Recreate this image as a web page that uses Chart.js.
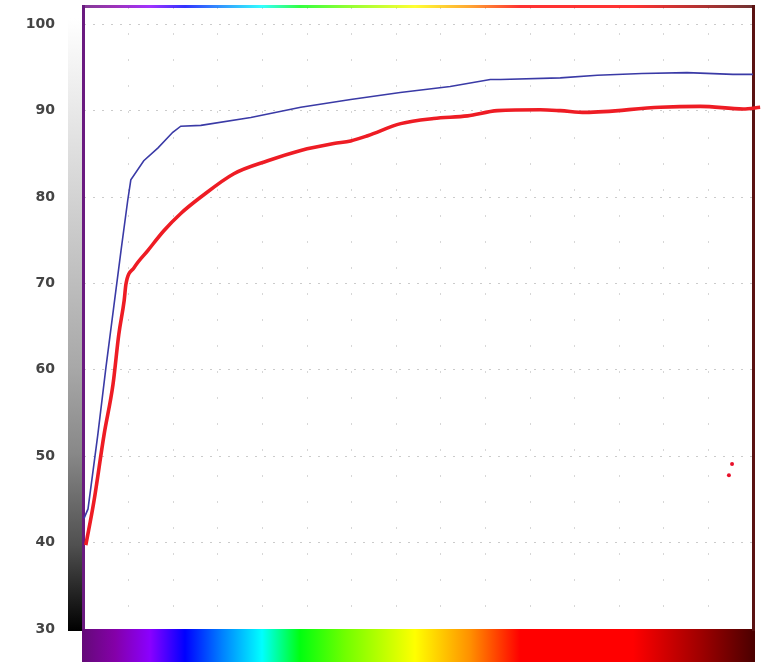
<!DOCTYPE html>
<html>
<head>
<meta charset="utf-8">
<script src="https://cdn.jsdelivr.net/npm/chart.js@4/dist/chart.umd.min.js"></script>
<style>
  html, body { margin: 0; padding: 0; background: #ffffff; }
  #wrap { width: 767px; height: 669px; position: relative; }
</style>
</head>
<body>
<div id="wrap"><canvas id="c"></canvas></div>
<script>
// ---- data ----
const blueX = [0, 0.09, 0.31, 0.49, 0.67, 0.83, 0.98, 1.05, 1.34, 1.66, 1.99, 2.17, 2.62, 3.74, 4.86, 5.98, 7.09, 8.21, 9.11, 9.34, 10.68, 11.51, 12.51, 13.52, 14.55, 15];
const blueY = [42.8, 43.9, 52.5, 60.2, 67.4, 73.8, 79.6, 82.0, 84.2, 85.7, 87.5, 88.2, 88.3, 89.2, 90.4, 91.3, 92.1, 92.8, 93.6, 93.6, 93.8, 94.1, 94.3, 94.4, 94.2, 94.2];

const redX = [0.04, 0.22, 0.45, 0.65, 0.78, 0.90, 0.94, 1.12, 1.43, 1.79, 2.17, 2.62, 3.36, 4.12, 4.86, 5.60, 5.98, 6.36, 7.10, 7.84, 8.60, 9.27, 10.23, 10.68, 11.24, 12.92, 13.82, 14.78, 15.16];
const redY = [39.7, 44.7, 52.5, 58.3, 64.1, 68.0, 69.9, 71.8, 73.8, 76.1, 78.1, 80.0, 82.7, 84.2, 85.4, 86.2, 86.5, 87.1, 88.5, 89.1, 89.4, 90.0, 90.1, 90.0, 89.8, 90.4, 90.5, 90.2, 90.4];

const strayX = [14.53, 14.46];
const strayY = [49.1, 47.8];

const yTickValues = [30, 40, 50, 60, 70, 80, 90, 100];

const toPts = (xs, ys) => xs.map((x, i) => ({ x: x, y: ys[i] }));

// ---- decorations: gray bar, spectrum bar, frame ----
function spectrum(ctx, x0, x1) {
  const g = ctx.createLinearGradient(x0, 0, x1, 0);
  const stops = [
    [82, '#640a78'], [115, '#8400a8'], [150, '#8a00ff'], [185, '#0000ff'],
    [222, '#0080ff'], [262, '#00ffff'], [300, '#00ff10'], [345, '#70ff00'],
    [415, '#ffff00'], [470, '#ff9000'], [520, '#ff0000'], [633, '#ff0000'],
    [700, '#a00000'], [755, '#4a0000']
  ];
  stops.forEach(s => g.addColorStop(Math.min(1, Math.max(0, (s[0] - 82) / (755 - 82))), s[1]));
  return g;
}

const decor = {
  id: 'decor',
  beforeDatasetsDraw(chart) {
    const ctx = chart.ctx;
    const a = chart.chartArea;
    ctx.save();
    // gray gradient bar on left
    const gg = ctx.createLinearGradient(0, 18, 0, a.bottom + 2);
    gg.addColorStop(0, '#ffffff');
    gg.addColorStop(0.3, '#d2d2d2');
    gg.addColorStop(0.57, '#a8a8a8');
    gg.addColorStop(0.71, '#888888');
    gg.addColorStop(0.86, '#505050');
    gg.addColorStop(1, '#000000');
    ctx.fillStyle = gg;
    ctx.fillRect(a.left - 16, 18, 14, a.bottom + 2 - 18);
    // bottom spectrum bar
    ctx.fillStyle = spectrum(ctx, a.left - 2, a.right + 2);
    ctx.fillRect(a.left - 2, a.bottom, a.right - a.left + 4, 33);
    // top border (spectrum, paler)
    ctx.globalAlpha = 0.8;
    ctx.fillStyle = spectrum(ctx, a.left - 2, a.right + 2);
    ctx.fillRect(a.left - 2, a.top - 2, a.right - a.left + 4, 3);
    ctx.globalAlpha = 1;
    // left border purple
    ctx.fillStyle = '#6a1a80';
    ctx.fillRect(a.left - 2, a.top - 2, 3, a.bottom - a.top + 2);
    // right border maroon
    ctx.fillStyle = '#5a1212';
    ctx.fillRect(a.right - 1, a.top - 2, 3, a.bottom - a.top + 4);
    ctx.restore();
  }
};

new Chart(document.getElementById('c'), {
  type: 'line',
  data: {
    datasets: [
      {
        label: 'upper',
        data: toPts(blueX, blueY),
        borderColor: '#3a3aa6',
        borderWidth: 1.6,
        pointRadius: 0,
        tension: 0,
        clip: false
      },
      {
        label: 'lower',
        data: toPts(redX, redY),
        borderColor: '#ee1c24',
        borderWidth: 3.6,
        pointRadius: 0,
        cubicInterpolationMode: 'monotone',
        clip: false
      },
      {
        label: 'stray',
        data: toPts(strayX, strayY),
        showLine: false,
        pointRadius: 2,
        pointBorderWidth: 0,
        pointBackgroundColor: '#e8102a',
        borderColor: '#e8102a'
      }
    ]
  },
  options: {
    responsive: true,
    maintainAspectRatio: false,
    animation: false,
    events: [],
    layout: { padding: { top: 7, right: 14, bottom: 0, left: 0 } },
    plugins: { legend: { display: false }, tooltip: { enabled: false } },
    scales: {
      x: {
        type: 'linear',
        min: 0,
        max: 15,
        ticks: { display: false, stepSize: 1 },
        grid: { color: 'rgba(140,140,140,0.35)', drawTicks: false, lineWidth: 1 },
        border: { display: false, dash: [2, 24] },
        afterFit(scale) { scale.height = 40; scale.paddingLeft = 0; scale.paddingRight = 0; }
      },
      y: {
        type: 'linear',
        min: 30,
        max: 102,
        afterBuildTicks(scale) {
          scale.ticks = yTickValues.map(v => ({ value: v }));
        },
        ticks: {
          stepSize: 10,
          padding: 29,
          color: '#444444',
          font: { family: 'DejaVu Sans', size: 14, weight: 'bold' }
        },
        grid: { color: 'rgba(140,140,140,0.45)', drawTicks: false, lineWidth: 1 },
        border: { display: false, dash: [2, 7] },
        afterFit(scale) { scale.width = 84; scale.paddingTop = 0; scale.paddingBottom = 0; }
      }
    }
  },
  plugins: [decor]
});
</script>
</body>
</html>
